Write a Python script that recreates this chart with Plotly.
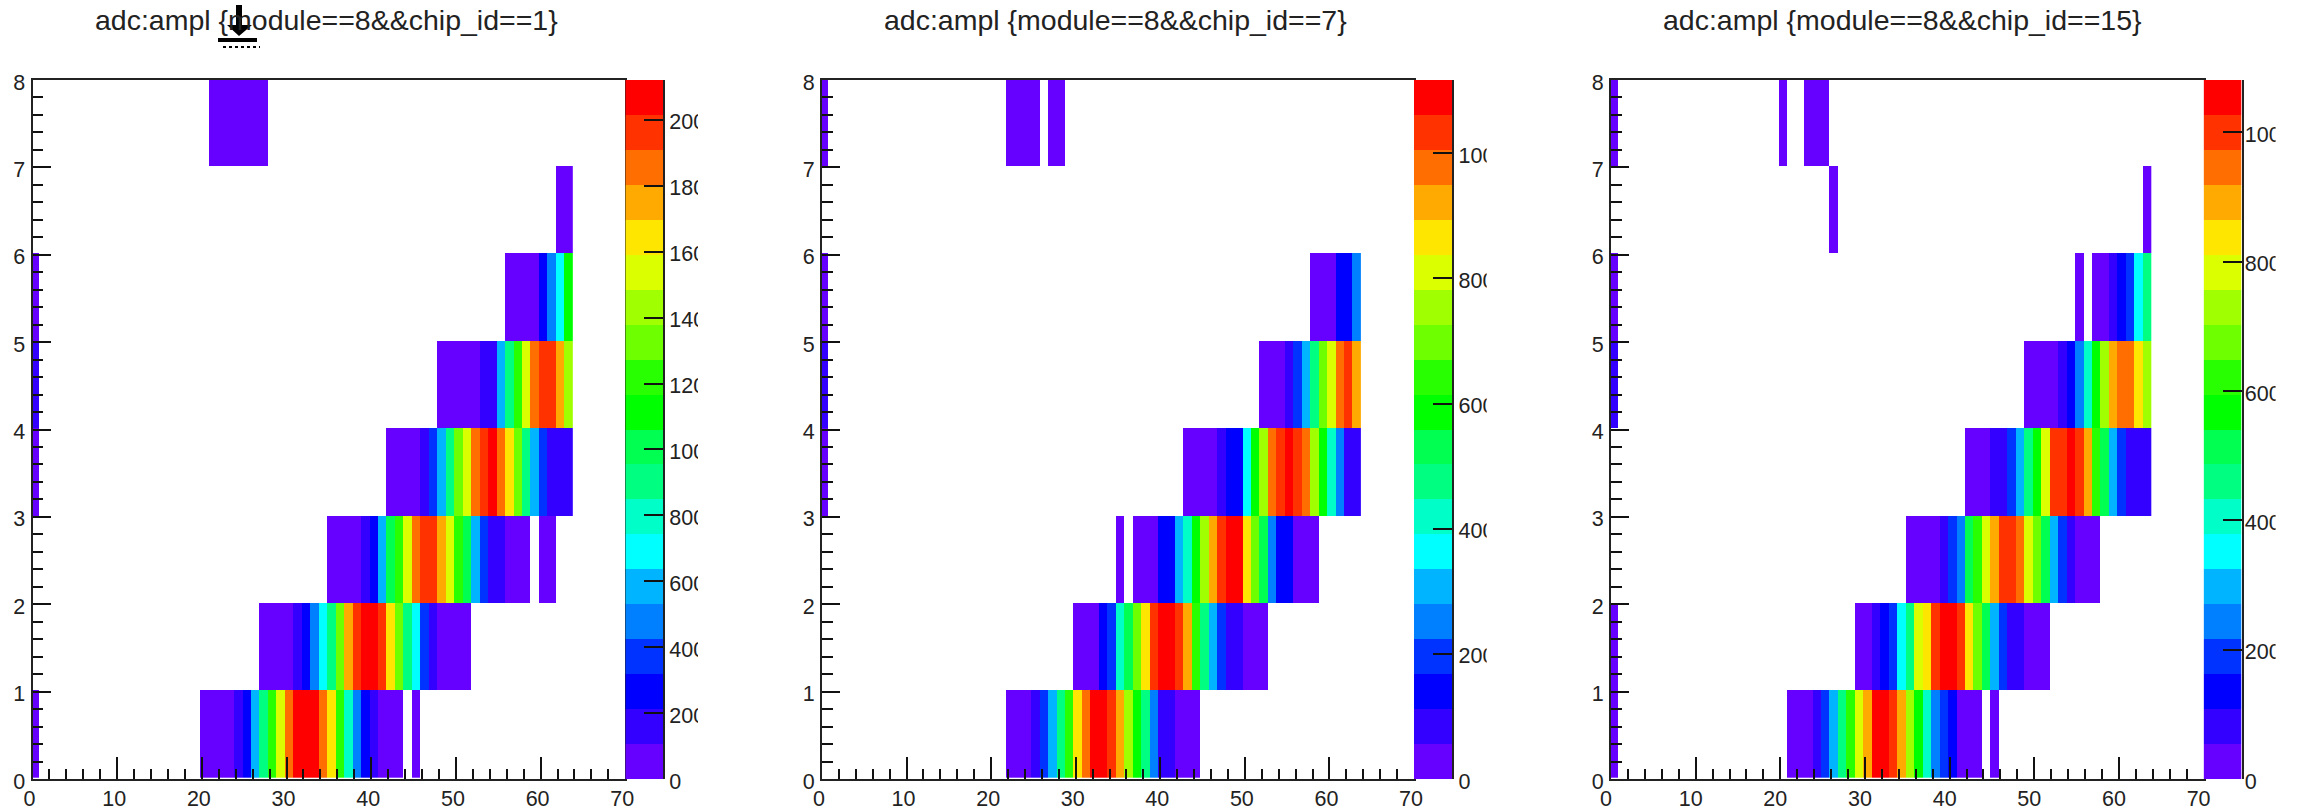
import plotly.graph_objects as go

W, H = 2303, 811
_ = None

# 20-band rainbow palette of the z scale, lowest band first
palette = ["#6600ff", "#3300ff", "#0000ff", "#0033ff", "#0080ff", "#00b4ff", "#00ffff",
           "#00ffc8", "#00ff80", "#00ff50", "#00ff00", "#28ff00", "#6eff00", "#a0ff00",
           "#dcff00", "#ffe600", "#ffaa00", "#ff6e00", "#ff3200", "#ff0000"]

titles = ["adc:ampl {module==8&&chip_id==1}", "adc:ampl {module==8&&chip_id==7}",
          "adc:ampl {module==8&&chip_id==15}"]
z_max = [2121, 1117, 1081]
z_ticks = [list(range(0, 2001, 200)), list(range(0, 1001, 200)), list(range(0, 1001, 200))]
x_ticks = [0, 10, 20, 30, 40, 50, 60, 70]
y_ticks = [0, 1, 2, 3, 4, 5, 6, 7, 8]

# Cell values read from the picture as palette band numbers. Bin 0 per row, then
# per row: first filled ampl bin and the bands that follow it.
chip1_bin0 = [0, _, _, 0, 1, 0, _, _]
chip1_first = [20, 27, 35, 42, 48, 56, 62, 21]
chip1_row0 = [0, 0, 0, 0, 1, 2, 5, 8, 11, 14, 17, 19, 19, 19, 17, 15, 11, 7, 4, 2, 1, 0, 0, 0, _, 0]
chip1_row1 = [0, 0, 0, 0, 1, 2, 4, 6, 8, 12, 16, 18, 19, 19, 18, 15, 12, 8, 6, 3, 1, 0, 0, 0, 0]
chip1_row2 = [0, 0, 0, 0, 1, 2, 5, 9, 11, 14, 17, 18, 18, 16, 14, 11, 9, 5, 3, 1, 1, 0, 0, 0, _, 0, 0]
chip1_row3 = [0, 0, 0, 0, 1, 3, 5, 8, 12, 14, 17, 18, 19, 17, 15, 12, 8, 5, 3, 1, 1, 1]
chip1_row4 = [0, 0, 0, 0, 0, 1, 1, 5, 8, 11, 14, 17, 18, 18, 16, 13]
chip1_row5 = [0, 0, 0, 0, 2, 4, 6, 10]
chip1_row6 = [0, 0]
chip1_row7 = [0, 0, 0, 0, 0, 0, 0]

chip7_bin0 = [_, _, _, 0, 1, 0, _, 0]
chip7_first = [22, 30, 35, 43, 52, 58, 0, 22]
chip7_row0 = [0, 0, 0, 1, 3, 5, 8, 11, 15, 17, 19, 19, 18, 16, 13, 10, 8, 4, 1, 1, 0, 0, 0]
chip7_row1 = [0, 0, 0, 2, 3, 7, 9, 12, 15, 18, 19, 19, 18, 16, 11, 8, 5, 3, 1, 1, 0, 0, 0]
chip7_row2 = [0, _, 0, 0, 0, 2, 2, 5, 7, 10, 13, 16, 18, 19, 19, 15, 12, 9, 4, 2, 2, 0, 0, 0]
chip7_row3 = [0, 0, 0, 0, 1, 2, 2, 6, 10, 13, 17, 18, 19, 18, 17, 13, 10, 7, 4, 1, 1]
chip7_row4 = [0, 0, 0, 1, 3, 5, 8, 12, 14, 17, 18, 16]
chip7_row5 = [0, 0, 0, 2, 2, 4]
chip7_row6 = []
chip7_row7 = [0, 0, 0, 0, _, 0, 0]

chip15_bin0 = [0, 0, _, _, 1, 0, _, 0]
chip15_first = [21, 29, 35, 42, 49, 55, 26, 20]
chip15_row0 = [0, 0, 0, 1, 3, 5, 8, 11, 14, 16, 19, 19, 18, 16, 13, 10, 7, 4, 3, 2, 0, 0, 0, _, 0]
chip15_row1 = [0, 0, 1, 2, 3, 6, 8, 14, 15, 18, 19, 19, 18, 15, 12, 9, 5, 3, 1, 1, 0, 0, 0]
chip15_row2 = [0, 0, 0, 0, 1, 3, 4, 9, 11, 14, 16, 18, 18, 17, 14, 12, 9, 5, 3, 1, 0, 0, 0]
chip15_row3 = [0, 0, 0, 1, 1, 3, 5, 8, 10, 14, 18, 18, 19, 18, 16, 11, 9, 5, 3, 1, 1, 1]
chip15_row4 = [0, 0, 0, 0, 1, 2, 4, 7, 10, 13, 16, 17, 17, 15, 13]
chip15_row5 = [0, _, 0, 0, 1, 2, 3, 6, 8]
chip15_row6 = [0] + [_] * 36 + [0]
chip15_row7 = [0, _, _, 0, 0, 0]

chips = [
    (chip1_bin0, chip1_first, [chip1_row0, chip1_row1, chip1_row2, chip1_row3, chip1_row4, chip1_row5, chip1_row6, chip1_row7]),
    (chip7_bin0, chip7_first, [chip7_row0, chip7_row1, chip7_row2, chip7_row3, chip7_row4, chip7_row5, chip7_row6, chip7_row7]),
    (chip15_bin0, chip15_first, [chip15_row0, chip15_row1, chip15_row2, chip15_row3, chip15_row4, chip15_row5, chip15_row6, chip15_row7]),
]

# Layout in page pixels
plot_left = [32.5, 822, 1611]
plot_right = [625.3, 1414, 2203.6]
bar_right = [663, 1452.3, 2241.5]
clip_right = [698, 1486.7, 2275.6]
mask_right = [795, 1585, 2303]
title_center = [326, 1115.5, 1902.6]
plot_top, plot_bottom = 80, 779
bin_shift = [-0.2, -0.25, -0.2]
row_shift = 0.015
xlabel_shift = [-3, -3, -5]
bar_standoff = [0, 0, -3]

FONT = "Liberation Sans, sans-serif"
tick_font = dict(family=FONT, size=21.5, color="#222222")

scale = []
for i, c in enumerate(palette):
    scale += [[i / len(palette), c], [(i + 1) / len(palette), c]]

fig = go.Figure()
layout = {}
shapes = []
annotations = []
yd = [1 - plot_bottom / H, 1 - plot_top / H]

for p, (bin0, first, rows) in enumerate(chips):
    top = z_max[p]
    band = top / len(palette)
    to_count = lambda b: None if b is None else (b + 0.5) * band
    z = [[None] * 64 for _ in range(8)]
    for r in range(8):
        z[r][0] = to_count(bin0[r])
        for k, b in enumerate(rows[r]):
            z[r][first[r] + k] = to_count(b)
    xa, ya = 2 * p + 1, 2 * p + 1
    xb, yb = 2 * p + 2, 2 * p + 2
    fig.add_trace(go.Heatmap(
        z=z, x=[i + bin_shift[p] for i in range(65)], y=[j + row_shift for j in range(9)],
        zmin=0, zmax=top, colorscale=scale, showscale=False,
        xaxis=f"x{xa}", yaxis=f"y{ya}", hoverongaps=False))
    fig.add_trace(go.Heatmap(
        z=[[(i + 0.5) * band] for i in range(len(palette))], x=[0, 1],
        y=[i * band for i in range(len(palette) + 1)],
        zmin=0, zmax=top, colorscale=scale, showscale=False,
        xaxis=f"x{xb}", yaxis=f"y{yb}"))
    layout[f"xaxis{xa}"] = dict(
        domain=[plot_left[p] / W, plot_right[p] / W], range=[0, 70], anchor=f"y{ya}", automargin=False,
        tickmode="array", tickvals=x_ticks, ticks="inside", ticklen=22, tickwidth=1.8,
        tickcolor="#111111", showgrid=False, zeroline=False, showline=True, mirror=True,
        linecolor="#222222", linewidth=2, tickfont=tick_font,
        ticklabelshift=xlabel_shift[p], ticklabelstandoff=-1,
        minor=dict(tick0=0, dtick=2, ticks="inside", ticklen=10.5, tickwidth=1.8,
                   tickcolor="#111111", showgrid=False))
    layout[f"yaxis{ya}"] = dict(
        domain=yd, range=[0, 8], anchor=f"x{xa}", automargin=False,
        tickmode="array", tickvals=y_ticks, ticks="inside", ticklen=18, tickwidth=1.8,
        tickcolor="#111111", showgrid=False, zeroline=False, showline=True, mirror=True,
        linecolor="#222222", linewidth=2, tickfont=tick_font,
        ticklabelshift=2, ticklabelstandoff=1,
        minor=dict(tick0=0, dtick=0.2, ticks="inside", ticklen=10.5, tickwidth=1.8,
                   tickcolor="#111111", showgrid=False))
    layout[f"xaxis{xb}"] = dict(
        domain=[plot_right[p] / W, bar_right[p] / W], range=[0, 1], anchor=f"y{yb}", visible=False, automargin=False)
    layout[f"yaxis{yb}"] = dict(
        domain=yd, range=[0, top], anchor=f"x{xb}", side="right", automargin=False,
        tickmode="array", tickvals=z_ticks[p], ticktext=[str(v) for v in z_ticks[p]],
        ticks="inside", ticklen=19, tickwidth=1.8, tickcolor="#111111", showgrid=False,
        zeroline=False, showline=True, linecolor="#222222", linewidth=2, tickfont=tick_font,
        ticklabelshift=2, ticklabelstandoff=bar_standoff[p])
    annotations.append(dict(
        text=titles[p], xref="paper", yref="paper", x=title_center[p] / W, y=1 - 20 / H,
        xanchor="center", yanchor="middle", showarrow=False,
        font=dict(family=FONT, size=28.5, color="#222222")))
    # the source canvas cuts the z-scale labels off here
    shapes.append(dict(type="rect", xref="paper", yref="paper", layer="above",
                       x0=clip_right[p] / W, x1=mask_right[p] / W, y0=0, y1=1,
                       fillcolor="white", line_width=0))

# mouse-cursor icon caught on top of the first title
icon = [(236, 5), (242, 5), (242, 25), (252, 25), (239, 36), (227, 25), (236, 25)]
shapes.append(dict(type="path", xref="paper", yref="paper", layer="above",
                   path="M" + " L".join(f"{a / W:.5f},{1 - b / H:.5f}" for a, b in icon) + " Z",
                   fillcolor="black", line_width=0))
shapes.append(dict(type="rect", xref="paper", yref="paper", layer="above",
                   x0=218 / W, x1=257 / W, y0=1 - 42 / H, y1=1 - 38 / H,
                   fillcolor="black", line_width=0))
shapes.append(dict(type="line", xref="paper", yref="paper", layer="above",
                   x0=223 / W, x1=260 / W, y0=1 - 47 / H, y1=1 - 47 / H,
                   line=dict(color="black", width=2, dash="dot")))

fig.update_layout(width=W, height=H, margin=dict(l=0, r=0, t=0, b=0), autosize=False,
                  paper_bgcolor="white", plot_bgcolor="white", showlegend=False,
                  shapes=shapes, annotations=annotations, **layout)
fig.write_html("out.html", config={"displayModeBar": False},
               post_script="document.body.style.margin='0';document.documentElement.style.overflow='hidden';")
